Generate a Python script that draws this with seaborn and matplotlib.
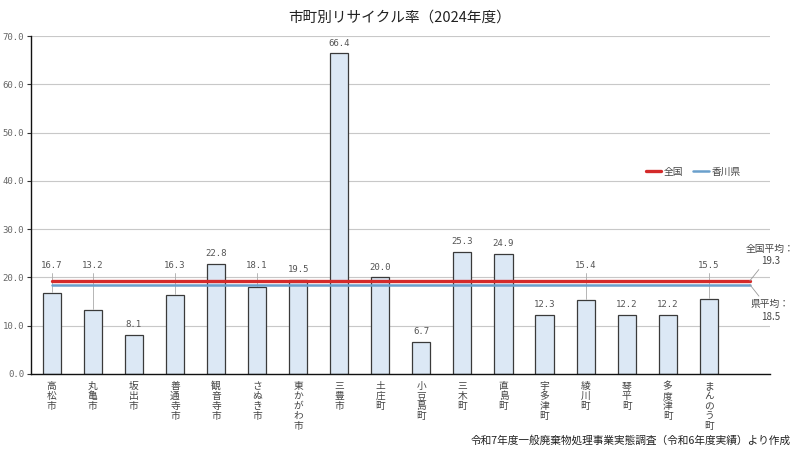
import numpy as np
import pandas as pd
import matplotlib
matplotlib.use("Agg")
import matplotlib.pyplot as plt
import seaborn as sns

# data
towns = ["高松市", "丸亀市", "坂出市", "善通寺市", "観音寺市", "さぬき市", "東かがわ市",
         "三豊市", "土庄町", "小豆島町", "三木町", "直島町", "宇多津町", "綾川町",
         "琴平町", "多度津町", "まんのう町"]
rates = [16.7, 13.2, 8.1, 16.3, 22.8, 18.1, 19.5, 66.4, 20.0, 6.7, 25.3, 24.9,
         12.3, 15.4, 12.2, 12.2, 15.5]
national_avg = 19.3
pref_avg = 18.5
yticks = [0, 10, 20, 30, 40, 50, 60, 70]

df = pd.DataFrame({"town": towns, "rate": rates})

sns.set_style("white")
plt.rcParams['font.family'] = ['Noto Sans CJK JP', 'DejaVu Sans']

fig = plt.figure(figsize=(8, 4.5), dpi=100)
ax = fig.add_axes([0.039, 0.169, 0.924, 0.751])

sns.barplot(data=df, x="town", y="rate", order=towns, color="#dce8f5",
            edgecolor="#3a3a3a", linewidth=0.9, width=0.44, saturation=1, ax=ax)

n = len(towns)
ax.set_xlim(-0.5, n + 0.5)
ax.set_ylim(0, 70)
ax.set_yticks(yticks)
ax.set_yticklabels([f"{v:.1f}" for v in yticks], fontsize=6.5, color="#666666",
                   family="DejaVu Sans Mono")
ax.yaxis.grid(True, color="#c8c8c8", linewidth=0.8)
ax.set_axisbelow(True)
ax.tick_params(axis="y", length=3, width=0.8, color="#333333", pad=2, left=True)
ax.tick_params(axis="x", length=0, pad=5)
for s in ["top", "right"]:
    ax.spines[s].set_visible(False)
ax.spines["left"].set_color("#111111")
ax.spines["bottom"].set_color("#111111")
ax.spines["left"].set_linewidth(1.0)
ax.spines["bottom"].set_linewidth(1.0)

ax.set_xticks(range(n))
ax.set_xticklabels(["\n".join(t) for t in towns], fontsize=7, color="#444444",
                   linespacing=1.0, va="top")
ax.set_xlabel("")
ax.set_ylabel("")

# average lines
ax.plot([0, n], [national_avg, national_avg], color="#d42a2a", lw=2.4, zorder=3,
        label="全国")
ax.plot([0, n], [pref_avg, pref_avg], color="#6aa0cc", lw=1.8, zorder=3,
        label="香川県")

# value labels
for i, v in enumerate(rates):
    if 13 < v < 19:
        ax.plot([i, i], [21.0, v + 0.2], color="#aaaaaa", lw=0.6, zorder=2)
        ax.text(i, 21.5, f"{v:.1f}", ha="center", va="bottom", fontsize=6.5,
                color="#555555", family="DejaVu Sans Mono")
    else:
        ax.text(i, v + 1.2, f"{v:.1f}", ha="center", va="bottom", fontsize=6.5,
                color="#555555", family="DejaVu Sans Mono")

# average annotations
ax.annotate(f"全国平均：\n{national_avg}", xy=(n, national_avg), xytext=(n + 0.5, 22.3),
            fontsize=7, color="#444444", ha="center", va="bottom", annotation_clip=False,
            linespacing=1.3,
            arrowprops=dict(arrowstyle="-", color="#999999", lw=0.6, shrinkA=0, shrinkB=0))
ax.annotate(f"県平均：\n{pref_avg}", xy=(n, pref_avg), xytext=(n + 0.5, 10.8),
            fontsize=7, color="#444444", ha="center", va="bottom", annotation_clip=False,
            linespacing=1.3,
            arrowprops=dict(arrowstyle="-", color="#999999", lw=0.6, shrinkA=0, shrinkB=0))

leg = ax.legend(loc="center left", bbox_to_anchor=(0.826, 0.598), ncol=2, frameon=False,
                fontsize=7, handlelength=1.6, handletextpad=0.3, columnspacing=1.0,
                borderaxespad=0)
for t in leg.get_texts():
    t.set_color("#444444")

fig.text(0.5, 0.962, "市町別リサイクル率（2024年度）", ha="center", va="center",
         fontsize=10.5, color="#222222")
fig.text(0.988, 0.022, "令和7年度一般廃棄物処理事業実態調査（令和6年度実績）より作成",
         ha="right", va="center", fontsize=7.7, color="#222222")

fig.savefig("out.png", dpi=100)
